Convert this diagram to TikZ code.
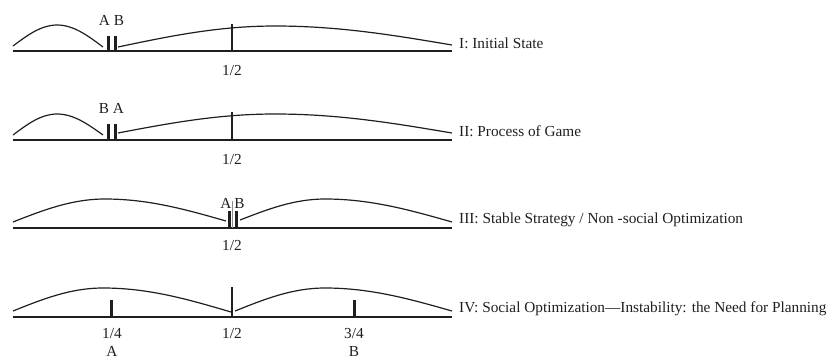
\documentclass[tikz,border=0pt]{standalone}
\usepackage{fontspec}
\setmainfont{Liberation Serif}
\begin{document}
\begin{tikzpicture}[x=1pt,y=-1pt,
  ink/.style={color=black!88},
  axisline/.style={ink,line width=2.2pt},
  curve/.style={ink,line width=1.2pt},
  halftick/.style={ink,line width=1.2pt},
  thintick/.style={black!45,line width=0.7pt},
  bar/.style={ink,line width=3pt},
  lbl/.style={ink,font=\fontsize{15.3}{18}\selectfont,inner sep=0pt,anchor=base},
  rowtitle/.style={lbl,anchor=base west}]
\useasboundingbox (0,0) rectangle (832,359);

% ---- I: initial state ----
\draw[axisline] (13,51) -- (452,51);
\draw[curve] (13,46) sin (57,25) cos (103,47);
\draw[curve] (118,47) sin (275,26) cos (452,45);
\draw[halftick] (232,24) -- (232,51);
\draw[bar] (108,36) -- (108,51);
\draw[bar] (115,36) -- (115,51);
\node[lbl] (ab1) at (111.5,25) {A B};
\node[lbl] (half1) at (232,75) {1/2};
\node[rowtitle] (t1) at (459,48) {I: Initial State};

% ---- II: process of game ----
\draw[axisline] (13,140) -- (452,140);
\draw[curve] (13,135) sin (57,114) cos (103,135);
\draw[curve] (118,133) sin (275,114) cos (452,133);
\draw[halftick] (232,112) -- (232,140);
\draw[bar] (108,124) -- (108,140);
\draw[bar] (115,124) -- (115,140);
\node[lbl] (ba2) at (111.5,113) {B A};
\node[lbl] (half2) at (232,164) {1/2};
\node[rowtitle] (t2) at (459,136) {II: Process of Game};

% ---- III: stable strategy ----
\draw[axisline] (13,228) -- (452,228);
\draw[curve] (13,222) sin (105,199) cos (226,221);
\draw[curve] (240,220) sin (325,199) cos (452,222);
\draw[thintick] (232.5,201) -- (232.5,228);
\draw[bar] (229,211) -- (229,228);
\draw[bar] (236.5,211) -- (236.5,228);
\node[lbl] (a3) at (226,208) {A};
\node[lbl] (b3) at (239.5,208) {B};
\node[lbl] (half3) at (232,250) {1/2};
\node[rowtitle] (t3) at (459,223) {III: Stable Strategy / Non -social Optimization};

% ---- IV: social optimization ----
\draw[axisline] (13,317) -- (452,317);
\draw[curve] (13,311) sin (103,288) cos (231,312);
\draw[curve] (235,311) sin (325,288) cos (452,311);
\draw[halftick] (232,287) -- (232,317);
\draw[bar] (111,300) -- (111,317);
\draw[bar] (354,300) -- (354,317);
\node[lbl] (q1) at (112,338) {1/4};
\node[lbl] (half4) at (232,338) {1/2};
\node[lbl] (q3) at (354,338) {3/4};
\node[lbl] (a4) at (112,356.5) {A};
\node[lbl] (b4) at (354,356.5) {B};
\node[rowtitle] (t4) at (459,312) {IV: Social Optimization—Instability: the Need for Planning};
\end{tikzpicture}
\end{document}
